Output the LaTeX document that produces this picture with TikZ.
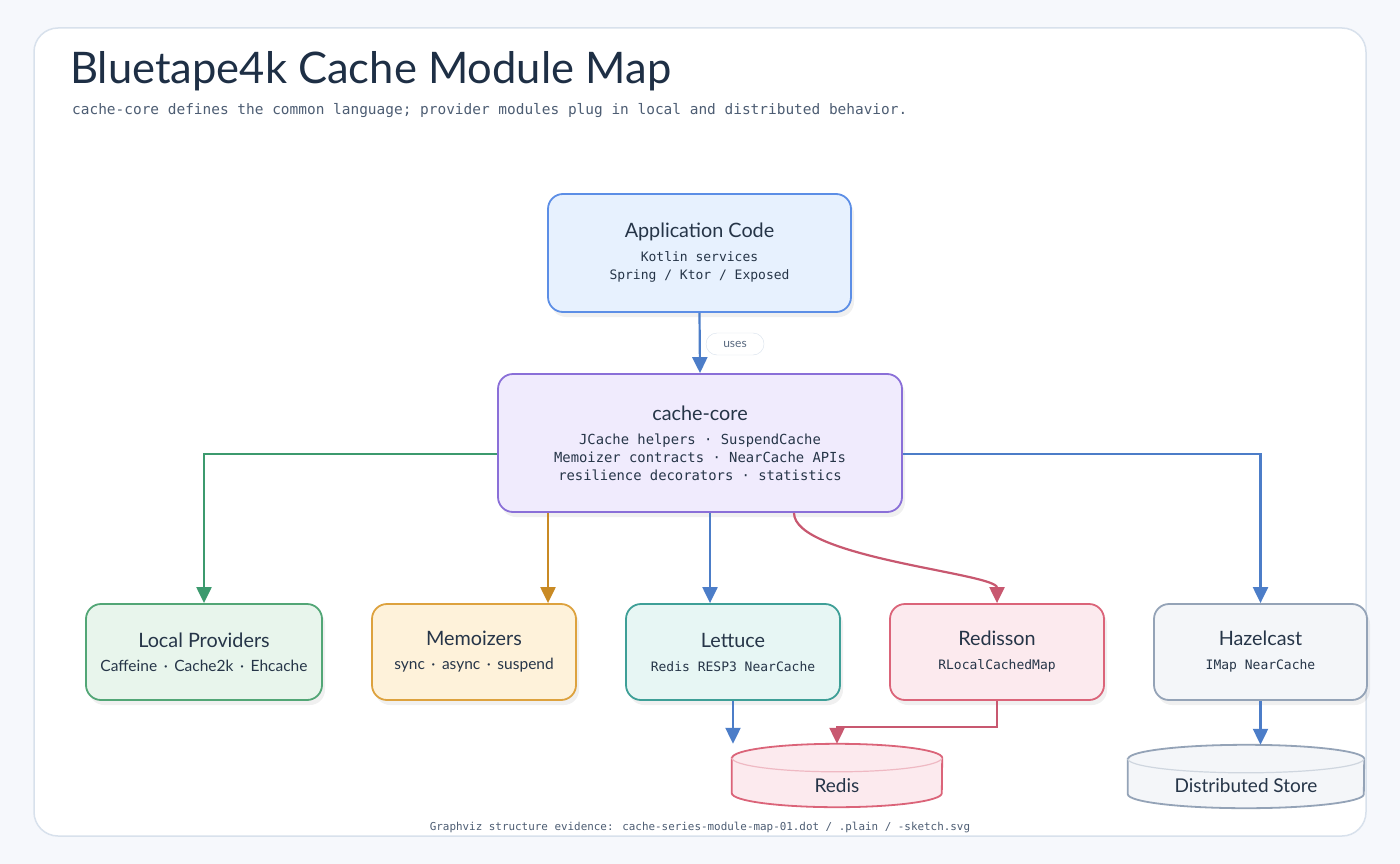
\documentclass[tikz,border=0pt]{standalone}
\usepackage{fontspec}
\setmainfont{Lato}
\newfontfamily\monof{DejaVu Sans Mono}
\usetikzlibrary{arrows.meta,calc,shadows}

\definecolor{pagebg}{HTML}{F6F8FC}
\definecolor{panelline}{HTML}{D8E1EC}
\definecolor{ink}{HTML}{1E2F45}
\definecolor{boxink}{HTML}{263548}
\definecolor{subink}{HTML}{4D5D73}
\definecolor{pillink}{HTML}{5A6A80}
\definecolor{appfill}{HTML}{E7F1FE}\definecolor{appline}{HTML}{5C8EE6}
\definecolor{corefill}{HTML}{F0EBFD}\definecolor{coreline}{HTML}{8A6FD8}
\definecolor{locfill}{HTML}{E8F5EC}\definecolor{locline}{HTML}{52A676}
\definecolor{memfill}{HTML}{FEF2DA}\definecolor{memline}{HTML}{DDA23E}
\definecolor{letfill}{HTML}{E7F6F4}\definecolor{letline}{HTML}{3E9F97}
\definecolor{rsfill}{HTML}{FCEAEE}\definecolor{rsline}{HTML}{DB6479}
\definecolor{hzfill}{HTML}{F4F6F9}\definecolor{hzline}{HTML}{94A3B7}
\definecolor{bluelink}{HTML}{4C7DC8}
\definecolor{greenlink}{HTML}{3C9A6E}
\definecolor{orangelink}{HTML}{C98A24}
\definecolor{redlink}{HTML}{C85870}

\def\boxhead#1{{\fontsize{19.8}{22}\selectfont\rmfamily #1}\\[6pt]}
% cylinder round a named node: name, fill, line, x radius
\def\drawcyl#1#2#3#4{%
  \path[fill=#2,draw=#3,line width=1.8pt]
    ([yshift=-14pt]#1.north west) -- ([yshift=14pt]#1.south west)
    arc[start angle=180,end angle=360,x radius=#4,y radius=14pt]
    -- ([yshift=-14pt]#1.north east)
    arc[start angle=0,end angle=180,x radius=#4,y radius=14pt] -- cycle;
  \draw[#3!45,line width=1.2pt] ([yshift=-14pt]#1.north west)
    arc[start angle=180,end angle=360,x radius=#4,y radius=14pt];
}

\tikzset{
  modbox/.style={rounded corners=15pt,line width=1.8pt,align=center,inner sep=0pt,
    text=boxink,font=\monof\fontsize{13}{18}\selectfont,
    drop shadow={shadow xshift=3pt,shadow yshift=-5pt,opacity=.06,fill=black}},
  store/.style={inner sep=0pt,text=boxink,font=\fontsize{19}{22}\selectfont},
  link/.style={line width=2.2pt,-{Triangle[width=15pt,length=16pt]}},
}

\begin{document}
\begin{tikzpicture}[x=1pt,y=-1pt]
			%%%%% START %%%%%
			\fill[pagebg] (0,0) rectangle (1400,864);
			\useasboundingbox (0,0) rectangle (1400,864);
			\draw[fill=white,draw=panelline,line width=1.5pt,rounded corners=24pt] (34,28) rectangle (1366,836);
			
			\node[anchor=base west,inner sep=0pt,text=ink,font=\fontsize{43.5}{50}\selectfont] (title) at (70,84) {Bluetape4k Cache Module Map};
			\node[anchor=base west,inner sep=0pt,text=subink,font=\monof\fontsize{14.45}{18}\selectfont] (subtitle) at (72,115)
			  {cache-core defines the common language; provider modules plug in local and distributed behavior.};
			
			% modules
			\node[modbox,fill=appfill,draw=appline,minimum width=303pt,minimum height=118pt] (app) at (699.5,253)
			  {\boxhead{Application Code}Kotlin services\\Spring / Ktor / Exposed};
			\node[modbox,fill=corefill,draw=coreline,minimum width=404pt,minimum height=138pt,
			  font=\monof\fontsize{13.85}{18}\selectfont] (core) at (700,443)
			  {\boxhead{cache-core}JCache helpers · SuspendCache\\Memoizer contracts · NearCache APIs\\resilience decorators · statistics};
			
			\node[modbox,fill=locfill,draw=locline,minimum width=236pt,minimum height=96pt,
			  font=\fontsize{15.5}{18}\selectfont] (local) at (204,652)
			  {\boxhead{Local Providers}Caffeine \,·\, Cache2k \,·\, Ehcache};
			\node[modbox,fill=memfill,draw=memline,minimum width=204pt,minimum height=96pt,
			  font=\fontsize{15.5}{18}\selectfont] (memo) at (474,652)
			  {\boxhead{Memoizers}sync \,·\, async \,·\, suspend};
			\node[modbox,fill=letfill,draw=letline,minimum width=214pt,minimum height=96pt] (lettuce) at (733,652)
			  {\boxhead{Lettuce}Redis RESP3 NearCache};
			\node[modbox,fill=rsfill,draw=rsline,minimum width=214pt,minimum height=96pt] (redisson) at (997,652)
			  {\boxhead{Redisson}RLocalCachedMap};
			\node[modbox,fill=hzfill,draw=hzline,minimum width=213pt,minimum height=96pt] (hazel) at (1260.5,652)
			  {\boxhead{Hazelcast}IMap NearCache};
			
			% stores
			\node[store,minimum width=210pt,minimum height=63pt] (redis) at (837,775.5) {};
			\drawcyl{redis}{rsfill}{rsline}{105pt}
			\node[store] (redislbl) at ([yshift=-10pt]redis.center) {Redis};
			\node[store,minimum width=236pt,minimum height=63pt] (dstore) at (1246,776.5) {};
			\drawcyl{dstore}{hzfill}{hzline}{118pt}
			\node[store] (dstorelbl) at ([yshift=-9pt]dstore.center) {Distributed Store};
			
			% edges
			\coordinate (memx) at (548,0);
			\coordinate (letx) at (710,0);
			\coordinate (rsx) at (794,0);
			\draw[link,bluelink] (app.south) -- (core.north);
			\node[draw=panelline,fill=white,rounded corners=11pt,minimum width=58pt,minimum height=22pt,inner sep=0pt,
			  text=pillink,font=\fontsize{12}{14}\selectfont] (uses) at (735,344) {uses};
			\draw[link,greenlink] ([yshift=-11pt]core.west) -| (local.north);
			\draw[link,orangelink] (core.south -| memx) -- (memo.north -| memx);
			\draw[link,bluelink] (core.south -| letx) -- (lettuce.north -| letx);
			\draw[link,redlink] (core.south -| rsx) .. controls +(0,45) and +(0,-30) .. (redisson.north);
			\draw[link,bluelink] ([yshift=-11pt]core.east) -| (hazel.north);
			
			\draw[link,bluelink] (lettuce.south) -- (lettuce.south |- redis.north);
			\draw[link,redlink] (redisson.south) -- ++(0,26) -| (redis.north);
			\draw[link,bluelink] (hazel.south) -- (hazel.south |- dstore.north);
			
			\node[anchor=base,inner sep=0pt,text=subink,font=\monof\fontsize{10.9}{13}\selectfont] (footer) at (700,830)
			  {Graphviz structure evidence: cache-series-module-map-01.dot / .plain / -sketch.svg};
			%%%%% END %%%%%
\end{tikzpicture}
\end{document}
